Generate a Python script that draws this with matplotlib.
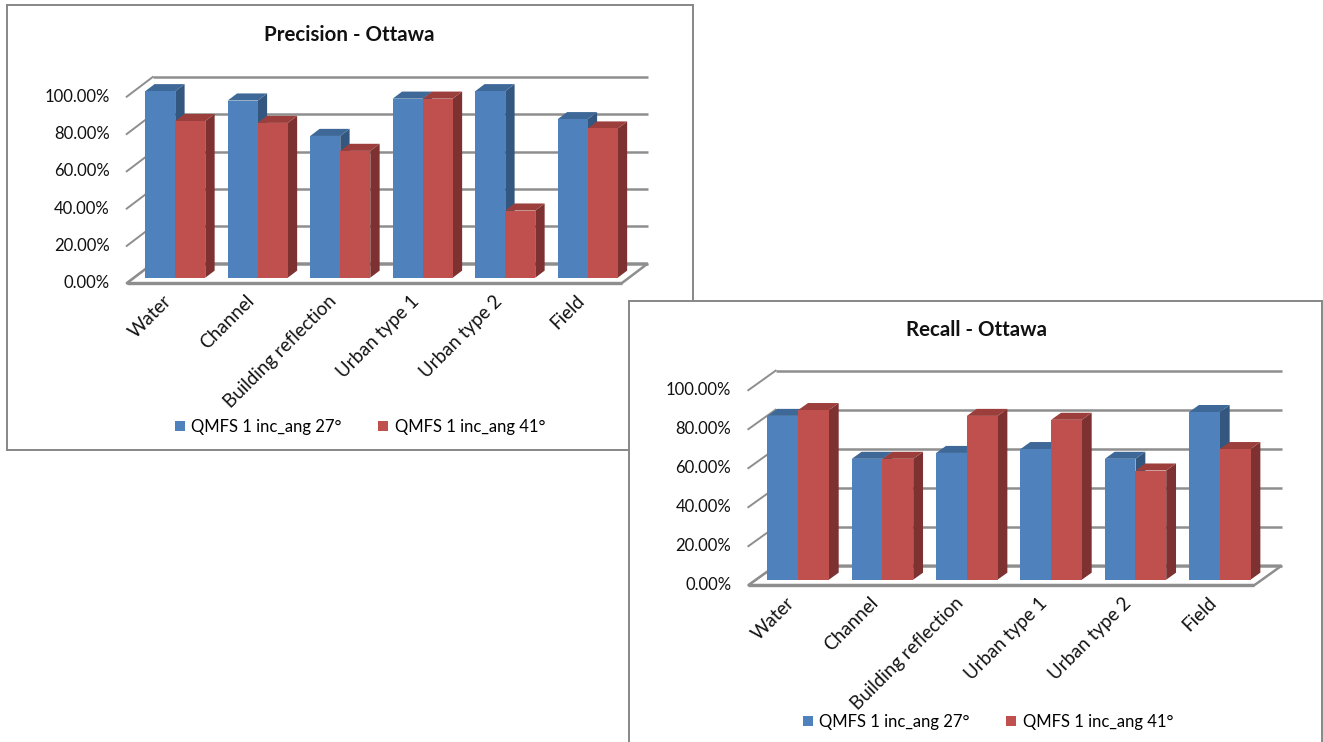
import matplotlib.pyplot as plt
from matplotlib.patches import Polygon, Patch
from matplotlib.transforms import offset_copy

plt.rcParams['font.family'] = ['Lato', 'DejaVu Sans']

categories = ['Water', 'Channel', 'Building reflection', 'Urban type 1', 'Urban type 2', 'Field']
series_labels = ['QMFS 1 inc_ang 27°', 'QMFS 1 inc_ang 41°']

precision_27 = [1.00, 0.95, 0.76, 0.96, 1.00, 0.85]
precision_41 = [0.84, 0.83, 0.68, 0.96, 0.36, 0.80]
recall_27 = [0.84, 0.62, 0.65, 0.67, 0.62, 0.86]
recall_41 = [0.87, 0.62, 0.84, 0.82, 0.56, 0.67]

y_ticks = [0.0, 0.2, 0.4, 0.6, 0.8, 1.0]
y_tick_labels = ['0.00%', '20.00%', '40.00%', '60.00%', '80.00%', '100.00%']

W, H = 1323, 742
fig = plt.figure(figsize=(W / 100, H / 100), dpi=100)
fig.patch.set_facecolor('white')

FRONT = ['#4F81BD', '#C0504D']
TOP = ['#3D6898', '#9C3F3C']
SIDE = ['#34577F', '#7D3130']
GRID = '#8E8E8E'
FRAME = '#878787'

FLOOR_FRONT = -0.28   # depth fractions relative to the bar front plane
FLOOR_BACK = 0.72
BAR_DEPTH = 0.36
BAR_W = 0.364


def px_axes(left, top, width, height, z):
    return fig.add_axes([left / W, 1 - (top + height) / H, width / W, height / H], zorder=z)


def fig_xy(x, y):
    return x / W, 1 - y / H


def draw_chart(box, plane, depth, title, title_xy, legend_xy, series, z):
    frame = px_axes(*box, z)
    frame.set_xticks([])
    frame.set_yticks([])
    frame.set_facecolor('white')
    for s in frame.spines.values():
        s.set_color(FRAME)
        s.set_linewidth(1.4)

    frame.text(*fig_xy(*title_xy), title, transform=fig.transFigure,
               ha='center', va='center', fontsize=14.8, fontweight='bold', color='#111111')

    handles = [Patch(facecolor=c, edgecolor='none') for c in FRONT]
    frame.legend(handles, series_labels, loc='center', ncol=2, frameon=False,
                 bbox_to_anchor=fig_xy(*legend_xy), bbox_transform=fig.transFigure,
                 fontsize=12, handlelength=0.6, handleheight=0.6,
                 handletextpad=0.4, columnspacing=2.2)

    n = len(categories)
    left, bottom, width, height = plane
    ax = px_axes(left, bottom - height, width, height, z + 0.5)
    ax.set_xlim(-0.5, n - 0.5)
    ax.set_ylim(0, 1)
    ax.axis('off')

    # depth vector in data units
    dx = depth[0] / (width / n)
    dy = depth[1] / height
    fx, fy = FLOOR_FRONT * dx, FLOOR_FRONT * dy
    bx, by = FLOOR_BACK * dx, FLOOR_BACK * dy

    # floor
    floor = Polygon([(-0.5 + fx, fy), (n - 0.5 + fx, fy), (n - 0.5 + bx, by), (-0.5 + bx, by)],
                    closed=True, facecolor='white', edgecolor=GRID, lw=1.8, zorder=1, clip_on=False)
    ax.add_patch(floor)
    ax.plot([-0.5 + fx, n - 0.5 + fx], [fy, fy], color=GRID, lw=2.4, zorder=1.1,
            clip_on=False, solid_capstyle='butt')

    # back wall gridlines and side-wall diagonals
    for t in y_ticks:
        ax.plot([-0.5 + bx, n - 0.5 + bx], [t + by, t + by], color=GRID, lw=1.8,
                zorder=1.2, clip_on=False, solid_capstyle='butt')
        ax.plot([-0.5 + fx, -0.5 + bx], [t + fy, t + by], color=GRID, lw=1.4,
                zorder=1.2, clip_on=False)

    tick_tr = offset_copy(ax.transData, fig=fig, x=-17, y=0, units='dots')
    for t, lab in zip(y_ticks, y_tick_labels):
        ax.text(-0.5 + fx, t + fy, lab, transform=tick_tr, ha='right', va='center',
                fontsize=12, color='#111111')

    cat_tr = offset_copy(ax.transData, fig=fig, x=1, y=-15, units='dots')
    for i, cat in enumerate(categories):
        ax.text(i + fx, fy, cat, transform=cat_tr, rotation=45, rotation_mode='anchor',
                ha='right', va='center', fontsize=13.5, color='#111111')

    # 3d-looking columns: side, top, then front face
    ddx, ddy = BAR_DEPTH * dx, BAR_DEPTH * dy
    for i in range(n):
        for s, vals in enumerate(series):
            v = vals[i]
            x0 = i - BAR_W + s * BAR_W
            x1 = x0 + BAR_W
            zz = 3 + i * 2 + s
            ax.add_patch(Polygon([(x1, 0), (x1 + ddx, ddy), (x1 + ddx, v + ddy), (x1, v)],
                                 closed=True, facecolor=SIDE[s], edgecolor='none',
                                 zorder=zz, clip_on=False))
            ax.add_patch(Polygon([(x0, v), (x1, v), (x1 + ddx, v + ddy), (x0 + ddx, v + ddy)],
                                 closed=True, facecolor=TOP[s], edgecolor='none',
                                 zorder=zz, clip_on=False))
            ax.bar(x0, v, width=BAR_W, align='edge', color=FRONT[s], zorder=zz,
                   clip_on=False, linewidth=0)


draw_chart(box=(7, 5, 686, 445), plane=(134, 277.7, 495, 186.5), depth=(26, 19.7),
           title='Precision - Ottawa', title_xy=(349, 35), legend_xy=(360, 427),
           series=[precision_27, precision_41], z=1)

draw_chart(box=(629, 301, 693, 445), plane=(756, 579.7, 506, 195), depth=(27.3, 19.5),
           title='Recall - Ottawa', title_xy=(976, 330), legend_xy=(988, 722),
           series=[recall_27, recall_41], z=3)

fig.savefig('out.png', dpi=100, facecolor='white')
